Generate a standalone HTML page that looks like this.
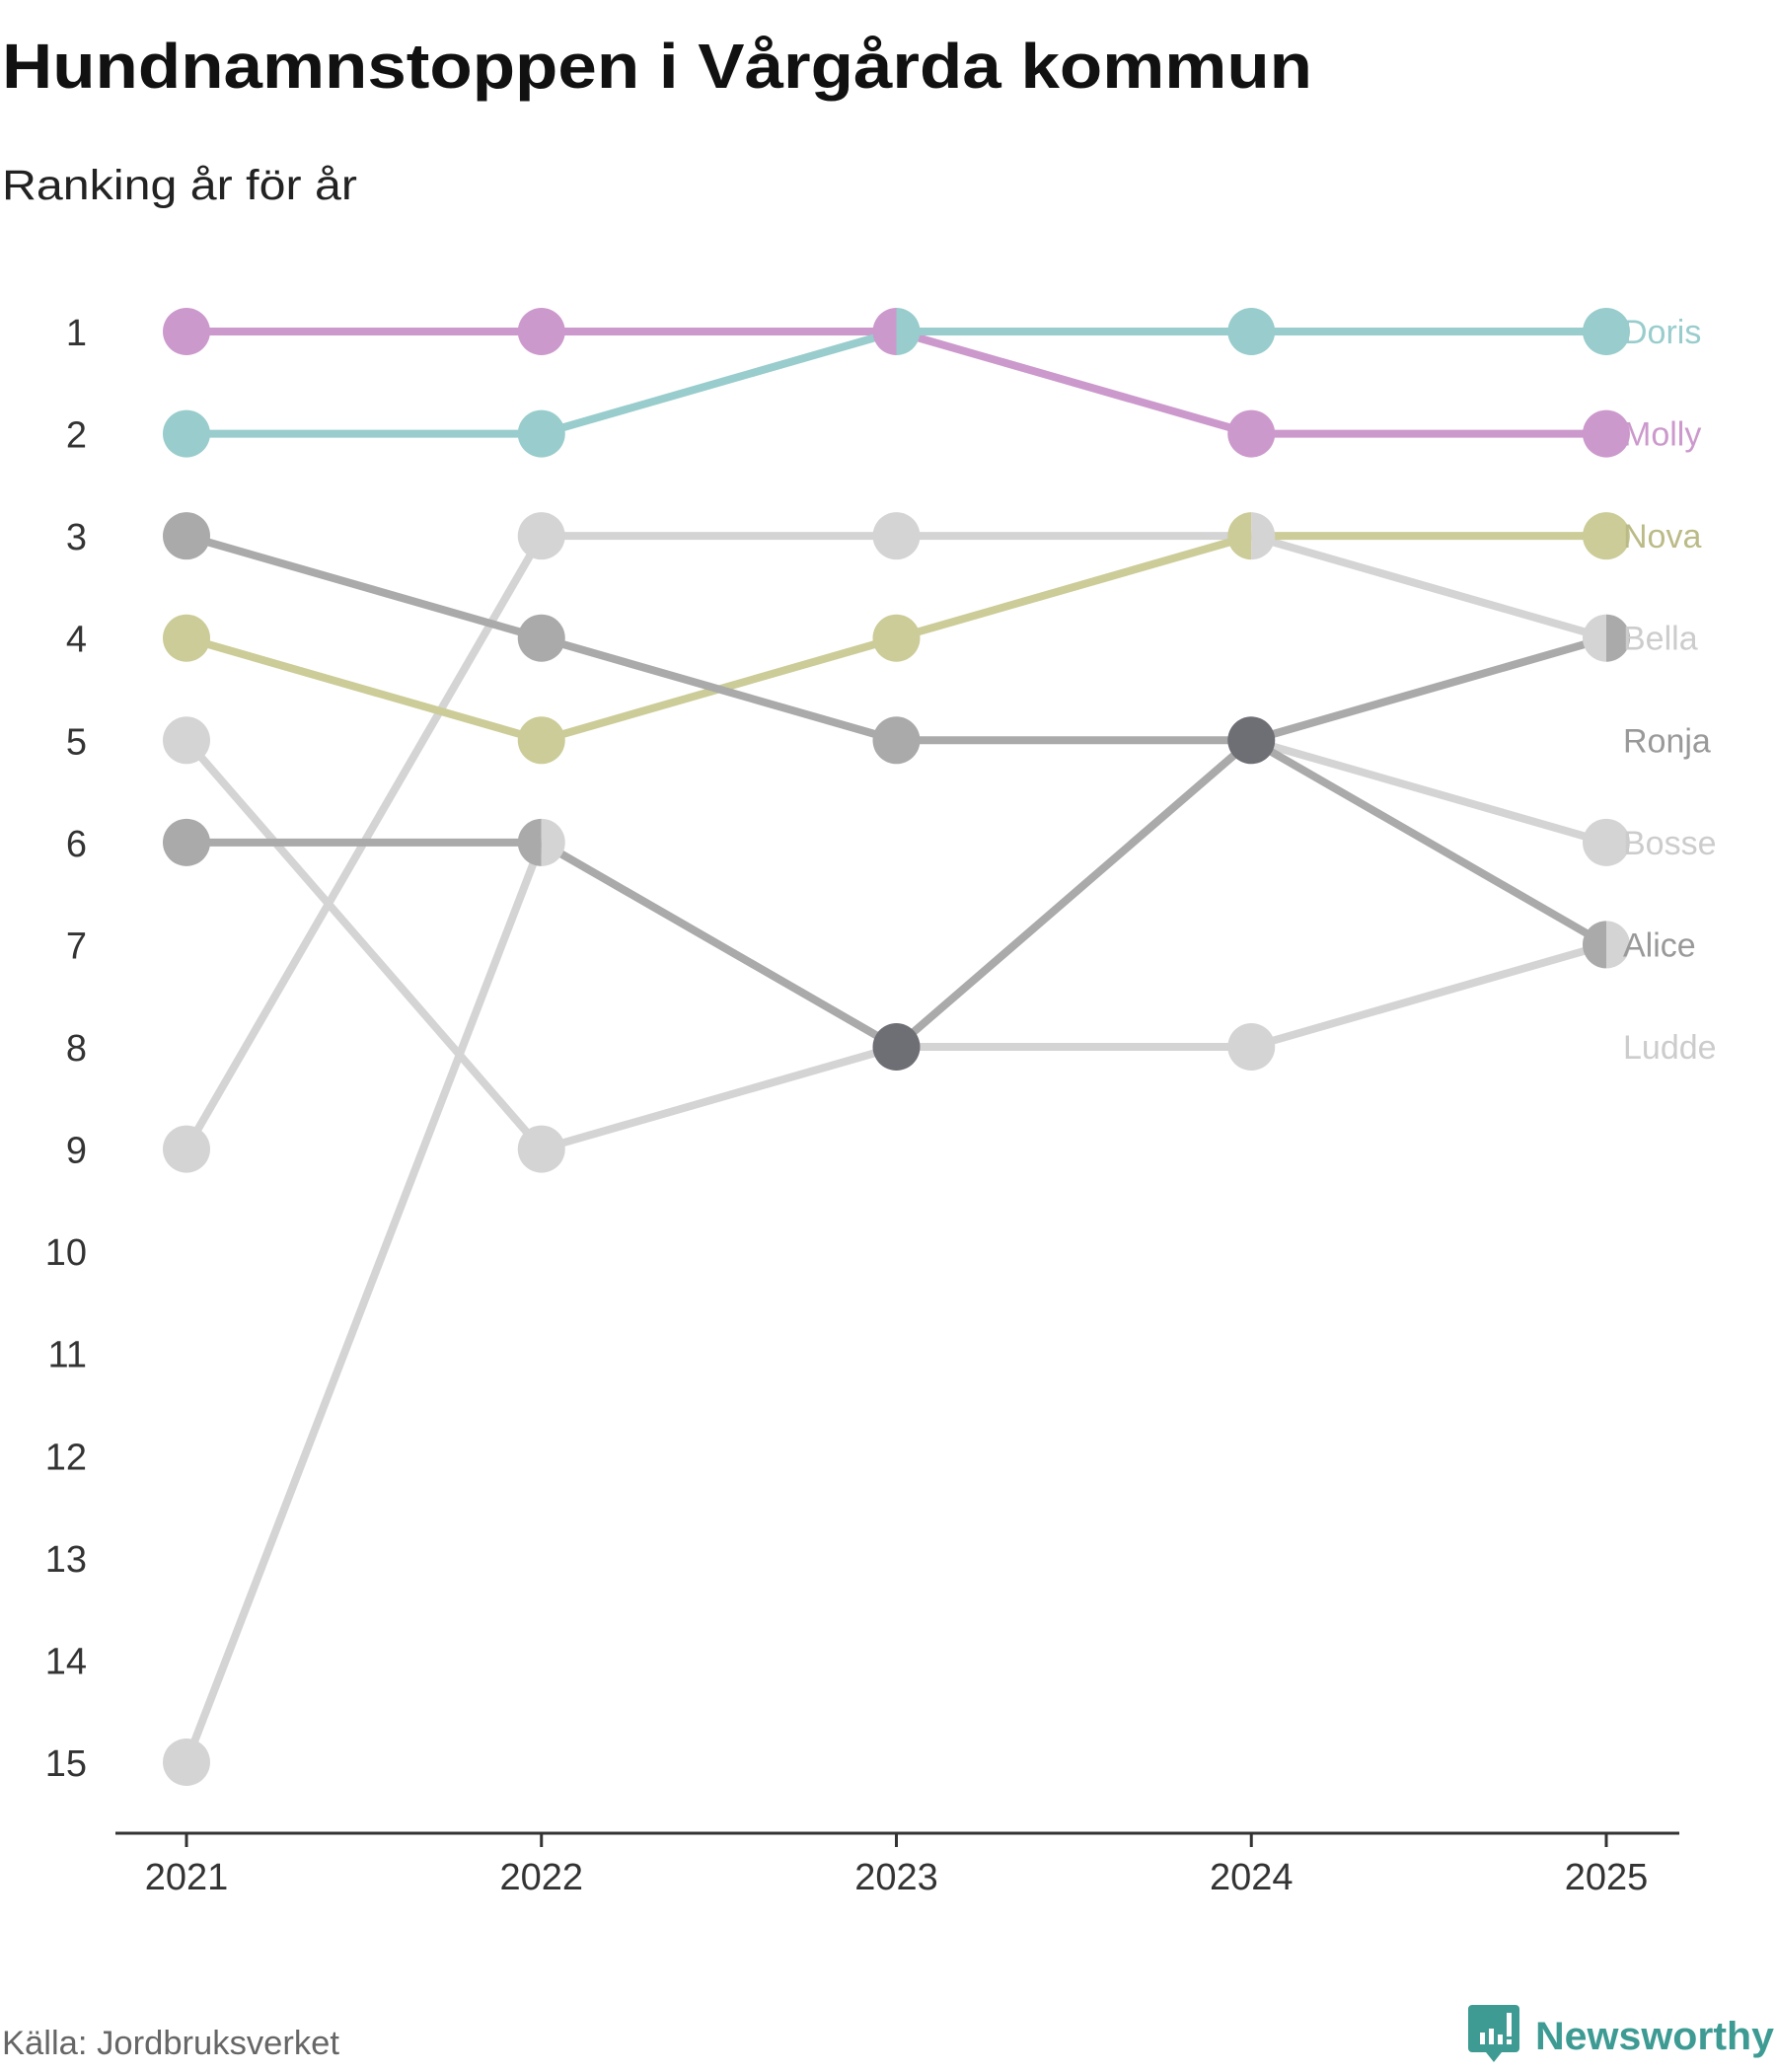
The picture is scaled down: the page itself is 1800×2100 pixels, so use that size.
<!DOCTYPE html>
<html><head><meta charset="utf-8"><style>
html,body{margin:0;padding:0;background:#fff;}
svg{display:block;font-family:"Liberation Sans","DejaVu Sans",sans-serif;}
</style></head><body>
<svg id="chart" width="1800" height="2100" viewBox="0 0 1800 2100" xmlns="http://www.w3.org/2000/svg">
<text x="2" y="89" font-size="64" font-weight="bold" fill="#111" textLength="1328" lengthAdjust="spacingAndGlyphs">Hundnamnstoppen i Vårgårda kommun</text>
<text x="2" y="202" font-size="43" fill="#222" textLength="360" lengthAdjust="spacingAndGlyphs">Ranking år för år</text>
<g id="yaxis"></g>
<g id="lines"></g>
<g id="points"></g>
<g id="labels"></g>
<g id="xaxis"></g>
<text x="2" y="2082" font-size="34" fill="#666" textLength="342" lengthAdjust="spacingAndGlyphs">Källa: Jordbruksverket</text>
<g>
<path d="M1492 2032 h44 a4 4 0 0 1 4 4 v40 a4 4 0 0 1 -4 4 h-14 l-8 10 l-8 -10 h-14 a4 4 0 0 1 -4 -4 v-40 a4 4 0 0 1 4 -4z" fill="#3e9b94"/>
<rect x="1500" y="2060" width="5" height="12" fill="#fff"/><rect x="1509" y="2056" width="5" height="16" fill="#fff"/><rect x="1518" y="2062" width="5" height="10" fill="#fff"/><rect x="1527" y="2040" width="5" height="24" fill="#fff"/><rect x="1527" y="2067" width="5" height="5" fill="#fff"/>
<text x="1556" y="2077" font-size="40" font-weight="bold" fill="#3e9b94" textLength="242" lengthAdjust="spacingAndGlyphs">Newsworthy</text>
</g>
</svg>
<script>
const years = ["2021","2022","2023","2024","2025"];
const rankTicks = [1,2,3,4,5,6,7,8,9,10,11,12,13,14,15];
const seriesNames = ["Ludde","Bosse","Bella","Molly","Doris","Nova","GrayA","Alice"];
const ludde = [5,9,8,8,7];
const bosse = [15,6,8,5,6];
const bella = [9,3,3,3,4];
const molly = [1,1,1,2,2];
const doris = [2,2,1,1,1];
const nova = [4,5,4,3,3];
const grayA = [3,4,5,5,4];
const alice = [6,6,8,5,7];
const seriesValues = [ludde,bosse,bella,molly,doris,nova,grayA,alice];
const seriesColors = ["#d4d4d4","#d4d4d4","#d4d4d4","#cc99cc","#99cccc","#cccc99","#aaaaaa","#aaaaaa"];
const labelNames = ["Doris","Molly","Nova","Bella","Ronja","Bosse","Alice","Ludde"];
const labelRanks = [1,2,3,4,5,6,7,8];
const labelColors = ["#99cccc","#cc99cc","#bbbb88","#cccccc","#999999","#cccccc","#999999","#cccccc"];

const NS="http://www.w3.org/2000/svg";
const x0=189, x1=1628, y0=336, y1=1786;
const xs = i => x0 + (x1-x0)*i/(years.length-1);
const ys = r => y0 + (y1-y0)*(r-1)/14;
function mk(tag, attrs, parent){const e=document.createElementNS(NS,tag);for(const k in attrs)e.setAttribute(k,attrs[k]);parent.appendChild(e);return e;}
const gY=document.getElementById('yaxis'),gL=document.getElementById('lines'),gP=document.getElementById('points'),gT=document.getElementById('labels'),gX=document.getElementById('xaxis');

rankTicks.forEach(r=>{
  const t=mk('text',{x:88,y:ys(r)+14,'font-size':38,fill:'#333','text-anchor':'end'},gY);
  t.textContent=r;
  
  
});

seriesValues.forEach((vals,si)=>{
  for(let i=0;i<vals.length-1;i++){
    if(vals[i]==null||vals[i+1]==null) continue;
    const l=mk('line',{x1:xs(i),y1:ys(vals[i]),x2:xs(i+1),y2:ys(vals[i+1]),stroke:seriesColors[si],'stroke-width':8},gL);
    
    
  }
});
const groups={};
seriesValues.forEach((vals,si)=>vals.forEach((v,i)=>{if(v==null)return;const k=i+'_'+v;(groups[k]=groups[k]||[]).push(si);}));
const leftFirst={"1_6":[7,1],"2_1":[3,4],"3_3":[5,2],"4_4":[2,6],"4_7":[7,0]};
Object.keys(groups).forEach(k=>{
  const [i,v]=k.split('_').map(Number);let g=groups[k];
  if(leftFirst[k]) g=leftFirst[k];
  const cx=xs(i),cy=ys(v),r=24;
  if(g.length===1){
    const c=mk('circle',{cx:cx,cy:cy,r:r,fill:seriesColors[g[0]]},gP);
    
    
  } else if(g.length===2){
    const a=mk('path',{d:`M${cx} ${cy-r} A${r} ${r} 0 0 0 ${cx} ${cy+r}Z`,fill:seriesColors[g[0]]},gP);
    
    
    const b=mk('path',{d:`M${cx} ${cy-r} A${r} ${r} 0 0 1 ${cx} ${cy+r}Z`,fill:seriesColors[g[1]]},gP);
    
    
  } else {
    const c=mk('circle',{cx:cx,cy:cy,r:r,fill:'#6e6e75'},gP);
    
    
  }
});
labelNames.forEach((n,i)=>{
  const t=mk('text',{x:1645,y:ys(labelRanks[i])+12,'font-size':34,fill:labelColors[i]},gT);
  t.textContent=n;
  
  
});
const ax=mk('line',{x1:117,y1:1858,x2:1702,y2:1858,stroke:'#333','stroke-width':3},gX);


years.forEach((y,i)=>{
  const tk=mk('line',{x1:xs(i),y1:1858,x2:xs(i),y2:1872,stroke:'#333','stroke-width':3},gX);
  
  
  const t=mk('text',{x:xs(i),y:1915,'font-size':38,fill:'#333','text-anchor':'middle'},gX);
  t.textContent=y;
  
  
});
</script>
</body></html>
